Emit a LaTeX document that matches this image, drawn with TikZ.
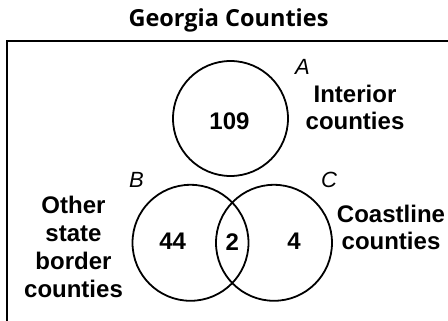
\documentclass[tikz,border=0pt]{standalone}
\usepackage{fontspec}
\setmainfont{Liberation Sans}
\newfontfamily\titlefont{Open Sans}
\usetikzlibrary{positioning}

\begin{document}
\begin{tikzpicture}[x=1pt, y=-1pt,
		set/.style = {draw, circle, line width=1.8pt, minimum size=116pt, inner sep=0pt},
		setname/.style = {font=\itshape\fontsize{22}{22}\selectfont, anchor=base, inner sep=0pt},
		lbl/.style = {font=\bfseries\fontsize{24}{28}\selectfont, align=center, anchor=base, inner sep=0pt},
		num/.style = {font=\bfseries\fontsize{24}{28}\selectfont, inner sep=0pt}]
	\useasboundingbox (0,0) rectangle (448,321);
	
	% frame, cut off at right and bottom
	\begin{scope}
		\clip (0,0) rectangle (448,321);
		\draw[line width=1.8pt] (7,41) rectangle (470,340);
	\end{scope}
	\node[font=\titlefont\bfseries\fontsize{23.5}{23.5}\selectfont, anchor=base, inner sep=0pt] (title) at (228.5,27) {Georgia Counties};
	
	\node[set, minimum size=115pt] (A) at (230.5,118.5) {};
	\node[set] (B) at (190.5,242.8) {};
	\node[set] (C) at (274,242.8) {};
	
	\node[num] (nA) at (229.5,121.7) {109};
	\node[num] (nB) at (172.7,241.7) {44};
	\node[num] (nBC) at (232.3,241.7) {2};
	\node[num] (nC) at (294,241.7) {4};
	
	\node[setname] (lA) at (302.5,75) {A};
	\node[setname] (lB) at (136.5,187) {B};
	\node[setname] (lC) at (329,187) {C};
	
	% base = last line
	\node[lbl] (tA) at (355,130) {Interior\\counties};
	\node[lbl] (tB) at (73.5,297) {Other\\state\\border\\counties};
	\node[lbl] (tC) at (391,250) {Coastline\\counties};
	
\end{tikzpicture}
\end{document}
